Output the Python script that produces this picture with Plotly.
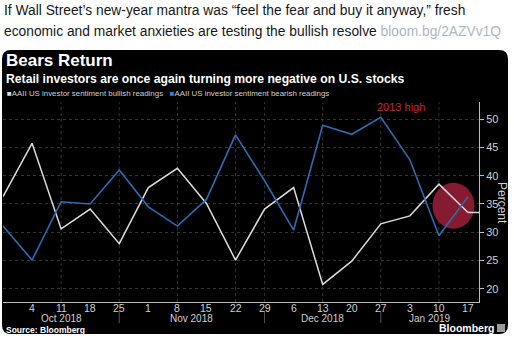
import plotly.graph_objects as go
import pandas as pd

# Weekly AAII readings (Thursdays), percent
dates = pd.date_range("2018-09-27", "2019-01-17", freq="7D")
bullish = [36.3, 45.7, 30.6, 34.1, 28.0, 37.9, 41.3, 35.1, 25.1, 34.1,
           37.9, 20.8, 24.9, 31.5, 32.9, 38.5, 33.5]
bearish = [31.1, 25.1, 35.4, 35.0, 41.0, 34.5, 31.1, 35.8, 47.2, 39.1,
           30.4, 48.9, 47.3, 50.3, 42.8, 29.4, 36.3]

tick_dates = dates[1:]
tick_text = [str(d.day) for d in tick_dates]
month_labels = ["Oct 2018", "Nov 2018", "Dec 2018", "Jan 2019"]
month_breaks = ["2018-10-25", "2018-11-29", "2018-12-27"]
grid_dates = ["2018-10-11", "2018-10-25", "2018-11-08", "2018-11-22",
              "2018-11-29", "2018-12-13", "2018-12-27", "2019-01-10"]
y_ticks = [20, 25, 30, 35, 40, 45, 50]

x_start = pd.Timestamp("2018-09-27")
x_end = pd.Timestamp("2019-01-19 15:30")

W, H = 514, 343
L, R, T, B = 3, 479, 102, 302


def px(x):
    return (x - L) / (R - L)


def py(y):
    return (B - y) / (B - T)


def rounded_rect(x0, y0, x1, y1, r):
    pts = [
        ("M", [(x0 + r, y0)]), ("L", [(x1 - r, y0)]), ("Q", [(x1, y0), (x1, y0 + r)]),
        ("L", [(x1, y1 - r)]), ("Q", [(x1, y1), (x1 - r, y1)]),
        ("L", [(x0 + r, y1)]), ("Q", [(x0, y1), (x0, y1 - r)]),
        ("L", [(x0, y0 + r)]), ("Q", [(x0, y0), (x0 + r, y0)]),
    ]
    parts = []
    for cmd, coords in pts:
        parts.append(cmd + " " + " ".join(f"{px(a):.5f},{py(b):.5f}" for a, b in coords))
    return " ".join(parts) + " Z"


WHITE_LINE = "#dcdcdc"
BLUE_LINE = "#2e6db4"
NARROW = "Liberation Sans Narrow, Liberation Sans, Arial, sans-serif"
SANS = "Liberation Sans, Arial, sans-serif"
AXIS_TXT = "#cfcfcf"

fig = go.Figure()
fig.add_trace(go.Scatter(x=dates, y=bullish, mode="lines",
                         line=dict(color=WHITE_LINE, width=1.5),
                         name="AAII US investor sentiment bullish readings",
                         showlegend=False, hoverinfo="skip"))
fig.add_trace(go.Scatter(x=dates, y=bearish, mode="lines",
                         line=dict(color=BLUE_LINE, width=1.6),
                         name="AAII US investor sentiment bearish readings",
                         showlegend=False, hoverinfo="skip"))

shapes = []
# black card behind the chart
shapes.append(dict(type="path", xref="paper", yref="paper", layer="below",
                   path=rounded_rect(2, 50, 508, 334, 9),
                   fillcolor="black", line=dict(width=0)))
# vertical grid
for g in grid_dates:
    shapes.append(dict(type="line", xref="x", yref="paper", x0=g, x1=g, y0=0, y1=1,
                       layer="below", line=dict(color="#333333", width=1, dash="dot")))
# month separators under the axis
for mb in month_breaks:
    shapes.append(dict(type="line", xref="x", yref="paper", x0=mb, x1=mb,
                       y0=py(311), y1=py(323), line=dict(color="#555555", width=1)))

# highlight around the latest crossover
i0, i1 = len(dates) - 2, len(dates) - 1
d0 = bullish[i0] - bearish[i0]
d1 = bullish[i1] - bearish[i1]
t = d0 / (d0 - d1)
cross_val = bullish[i0] + t * (bullish[i1] - bullish[i0])
mid_date = dates[i0] + (dates[i1] - dates[i0]) / 2
shapes.append(dict(type="circle", xref="x", yref="y",
                   xsizemode="pixel", ysizemode="pixel",
                   xanchor=mid_date, yanchor=cross_val,
                   x0=-21, x1=21, y0=-23, y1=23, layer="between",
                   fillcolor="#861a30", line=dict(width=0)))
# last-value marker on the bullish series
shapes.append(dict(type="line", xref="x", yref="y", x0=dates[-1], x1=x_end,
                   y0=bullish[-1], y1=bullish[-1], line=dict(color=WHITE_LINE, width=1.5)))
# small logo box
shapes.append(dict(type="rect", xref="paper", yref="paper",
                   x0=px(497), x1=px(505), y0=py(332), y1=py(324),
                   fillcolor="#9a9a9a", line=dict(width=0)))

ann = []
# tweet text
ann.append(dict(xref="paper", yref="paper", x=px(3), y=py(10), xanchor="left", yanchor="middle",
                showarrow=False, align="left", borderpad=0,
                text="If Wall Street’s new-year mantra was “feel the fear and buy it anyway,” fresh",
                font=dict(family=SANS, size=13.8, color="#14171a")))
ann.append(dict(xref="paper", yref="paper", x=px(3), y=py(31), xanchor="left", yanchor="middle",
                showarrow=False, align="left", borderpad=0,
                text="economic and market anxieties are testing the bullish resolve "
                     "<span style='color:#aab8c2'>bloom.bg/2AZVv1Q</span>",
                font=dict(family=SANS, size=13.8, color="#14171a")))
# titles
ann.append(dict(xref="paper", yref="paper", x=px(5), y=py(61), xanchor="left", yanchor="middle",
                showarrow=False, borderpad=0, text="<b>Bears Return</b>",
                font=dict(family=SANS, size=17, color="white")))
ann.append(dict(xref="paper", yref="paper", x=px(5), y=py(78.5), xanchor="left", yanchor="middle",
                showarrow=False, borderpad=0,
                text="<b>Retail investors are once again turning more negative on U.S. stocks</b>",
                font=dict(family=SANS, size=12.2, color="white")))
# legend
ann.append(dict(xref="paper", yref="paper", x=px(6), y=py(93.5), xanchor="left", yanchor="middle",
                showarrow=False, borderpad=0,
                text=f"<span style='color:{WHITE_LINE}'>■</span>AAII US investor sentiment bullish readings"
                     f"   <span style='color:#2f7fd8'>■</span>AAII US investor sentiment bearish readings",
                font=dict(family=NARROW, size=7.9, color="#cfcfcf")))
# callout
ann.append(dict(xref="x", yref="y", x=dates[13], y=bearish[13], xanchor="center", yanchor="bottom",
                xshift=20, yshift=2, showarrow=False, text="2013 high",
                font=dict(family=NARROW, size=11, color="#c8243c")))
# axis title
ann.append(dict(xref="paper", yref="paper", x=px(502), y=py(203), xanchor="center", yanchor="middle",
                showarrow=False, textangle=90, text="Percent", borderpad=0,
                font=dict(family=NARROW, size=12, color="#d0d0d0")))
# weekly day labels
for d, lbl in zip(tick_dates, tick_text):
    ann.append(dict(xref="x", yref="paper", x=d, y=py(307.5), xanchor="center", yanchor="middle",
                    showarrow=False, text=lbl, borderpad=0,
                    font=dict(family=NARROW, size=10.5, color=AXIS_TXT)))
# month labels centred between separators
edges = [x_start] + [pd.Timestamp(m) for m in month_breaks] + [x_end]
for lbl, a, b in zip(month_labels, edges[:-1], edges[1:]):
    ann.append(dict(xref="x", yref="paper", x=a + (b - a) / 2, y=py(318),
                    xanchor="center", yanchor="middle", showarrow=False, text=lbl, borderpad=0,
                    font=dict(family=NARROW, size=10, color=AXIS_TXT)))
# footer
ann.append(dict(xref="paper", yref="paper", x=px(5), y=py(330), xanchor="left", yanchor="middle",
                showarrow=False, text="<b>Source: Bloomberg</b>", borderpad=0,
                font=dict(family=SANS, size=8.5, color="white")))
ann.append(dict(xref="paper", yref="paper", x=px(495), y=py(328), xanchor="right", yanchor="middle",
                showarrow=False, text="<b>Bloomberg</b>", borderpad=0,
                font=dict(family=SANS, size=10.5, color="white")))

fig.update_layout(
    width=W, height=H,
    margin=dict(l=L, r=W - R, t=T, b=H - B, pad=0),
    paper_bgcolor="white", plot_bgcolor="black",
    shapes=shapes, annotations=ann, showlegend=False,
    xaxis=dict(type="date", range=[x_start, x_end], showgrid=False, zeroline=False,
               showticklabels=False, ticks="", showline=True, linecolor="#bdbdbd",
               linewidth=1, fixedrange=True),
    yaxis=dict(side="right", range=[17.7, 53.0], tickvals=y_ticks,
               showgrid=True, gridcolor="#333333", griddash="dot", gridwidth=1,
               zeroline=False, showline=True, linecolor="#bdbdbd", linewidth=1,
               ticks="outside", ticklen=4, tickcolor="#bdbdbd",
               tickfont=dict(family=NARROW, size=11, color="#d0d0d0"),
               fixedrange=True),
)

fig.write_html("out.html")
